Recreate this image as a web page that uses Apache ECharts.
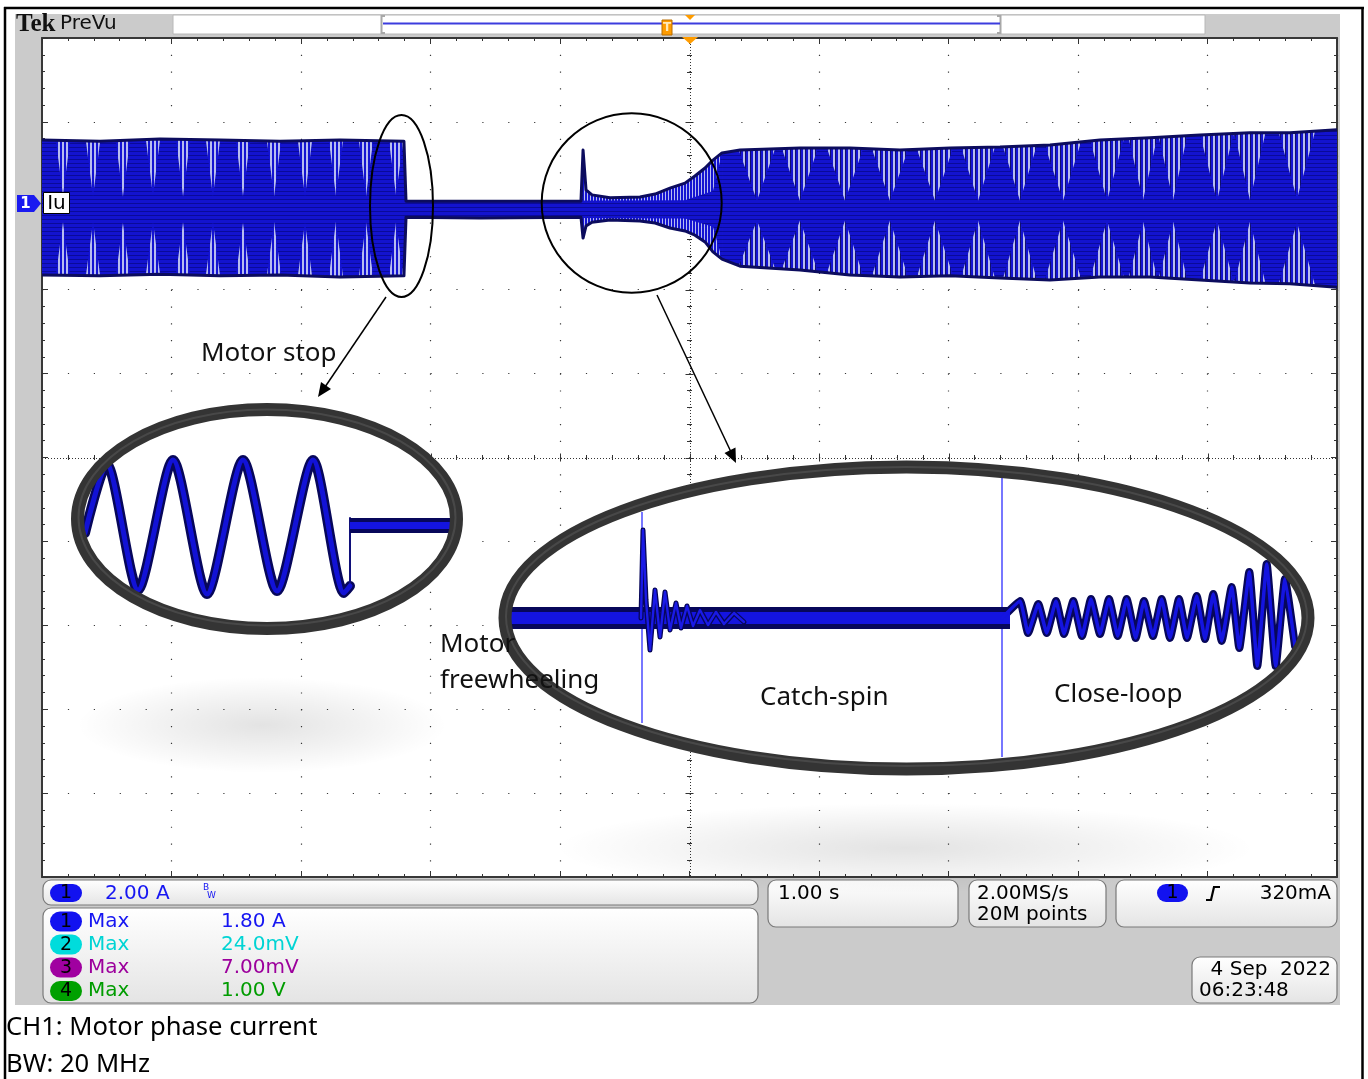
<!DOCTYPE html>
<html>
<head>
<meta charset="utf-8">
<title>Motor catch-spin</title>
<script src="https://cdn.jsdelivr.net/npm/echarts@6.0.0/dist/echarts.min.js"></script>
<style>
html,body{margin:0;padding:0;background:#ffffff;}
#chart{width:1368px;height:1079px;}
</style>
</head>
<body>
<div id="chart"></div>
<script>
// ================= DATA =================
// horizontal: 1.00 s/div, trigger at centre ; vertical: 2.00 A/div, CH1 ground 3 div above centre
const timeMin = -5, timeMax = 5, timePerDiv = 1;
const ampMin = -16, ampMax = 4, ampPerDiv = 2;
const centreTime = 0, centreAmp = -6;

// CH1 (Iu) outer envelope (s, A)
const envT   = [-5.000,-4.552,-4.089,-3.625,-3.162,-2.699,-2.205,-2.189,-1.618,-0.838,-0.822,-0.799,-0.753,-0.614,-0.382,-0.266,-0.151,-0.035,0.042,0.120,0.181,0.251,0.390,0.853,1.239,1.625,2.012,2.398,2.784,3.170,3.556,3.942,4.328,4.637,5.000];
const envMax = [1.57,1.54,1.59,1.57,1.54,1.57,1.54,0.11,0.11,0.11,1.33,0.38,0.26,0.19,0.21,0.28,0.42,0.54,0.71,0.90,1.09,1.26,1.33,1.38,1.38,1.33,1.38,1.40,1.45,1.57,1.62,1.69,1.74,1.74,1.81];
const envMin = [-1.65,-1.67,-1.63,-1.67,-1.65,-1.70,-1.67,-0.27,-0.29,-0.27,-0.77,-0.48,-0.39,-0.34,-0.36,-0.41,-0.53,-0.60,-0.70,-0.86,-1.10,-1.27,-1.44,-1.53,-1.65,-1.70,-1.67,-1.72,-1.77,-1.70,-1.70,-1.77,-1.84,-1.86,-1.94];
// sparse (striped) part while the motor is caught
const sparseStart = -0.822, sparseEnd = 0.251;
// dense core of the trace during freewheeling / catch-spin
const coreT   = [-2.189,-0.035,0.181,0.251];
const coreMax = [0.11,0.13,0.35,1.26];
const coreMin = [-0.27,-0.30,-0.50,-1.27];
// beat (aliasing) nodes: before stop and in close-loop
const beat1T  = [-4.838,-4.606,-4.375,-4.143,-3.911,-3.680,-3.448,-3.208,-2.969,-2.730,-2.498,-2.266];
const beat1Hi = [0.25,0.23,0.22,0.24,0.23,0.22,0.24,0.23,0.22,0.24,0.23,0.25];
const beat1Lo = [-0.40,-0.38,-0.41,-0.39,-0.40,-0.38,-0.41,-0.39,-0.40,-0.38,-0.40,-0.39];
const beat1W  = [0.055,0.055,0.055,0.055,0.055,0.055,0.055,0.055,0.055,0.055,0.055,0.055];
const beat3T  = [0.521,0.853,1.201,1.548,1.896,2.228,2.552,2.884,3.224,3.502,3.734,4.073,4.328,4.691];
const beat3Hi = [0.12,0.12,0.12,0.12,0.12,0.12,0.12,0.12,0.12,0.14,0.14,0.12,0.14,0.16];
const beat3Lo = [-0.35,-0.35,-0.35,-0.35,-0.35,-0.35,-0.35,-0.35,-0.35,-0.38,-0.38,-0.35,-0.38,-0.40];
const beat3W  = [0.14,0.14,0.14,0.14,0.14,0.13,0.13,0.14,0.13,0.11,0.11,0.13,0.12,0.14];

// zoom inset "Motor stop" (inset units)
const stopWaveX = [15,36.7,68,103,137,173,207,243,274,280];
const stopWaveY = [-13,56,-70,60,-74,60,-71,60,-73,-66];
const stopStepX = [280,280];
const stopStepY = [-66,2];
const stopHoldX = [280,382];
const stopHoldY = [-5.5,-5.5];

// zoom inset "freewheeling / catch-spin / close-loop" (inset units)
const catchHoldX  = [10,510];
const catchHoldY  = [2,2];
const catchSpikeX = [141,143,146,150,155,160,165,170,176,181,187,193,200,208,216,224,234,244];
const catchSpikeY = [2,90,20,-30,30,-17,28,-10,17,-8,14,-6,10,-5,8,-4,7,-2];
const catchLoopX  = [502,520,528,538.3,546.7,556,564,573.3,582,591,600,609,617.7,626.7,635.7,644,653,661.7,670,679,687,696.7,705,713.3,721.7,731.7,739.3,749.3,757.3,766.7,775.7,785,795];
const catchLoopY  = [2,19,-13,16,-13,19,-14,19,-16,21,-14,21,-16,21,-18,19,-16,21,-18,21,-18,24,-19,26,-21,33,-28,48,-46,56,-46,41,-26];
const cursorAX = [142,142], cursorAY = [108,-103];
const cursorBX = [502,502], cursorBY = [142,-137];

// readouts & texts
const chanNumbers = ['1','2','3','4'];
const measNames   = ['Max','Max','Max','Max'];
const measValues  = ['1.80 A','24.0mV','7.00mV','1.00 V'];
const vertScale = '2.00 A', horizScale = '1.00 s';
const sampleRate = '2.00MS/s', recordLength = '20M points';
const trigLevel = '320mA', dateText = '4 Sep  2022', timeText = '06:23:48';
const chanLabel = 'Iu';
const annotations = ['Motor stop','Motor','freewheeling','Catch-spin','Close-loop'];
const captions = ['CH1: Motor phase current','BW: 20 MHz'];

// ================= STYLE HELPERS =================
const NAVY = '#0c0c5e', BLUE = '#1414d2', PALE = '#b7bcf0';
function makePattern(w, h, draw){
  const c = document.createElement('canvas'); c.width = w; c.height = h;
  draw(c.getContext('2d')); return {image: c, repeat: 'repeat'};
}
const stripe1 = makePattern(4,1,g=>{g.fillStyle=BLUE;g.fillRect(0,0,4,1);g.fillStyle=PALE;g.fillRect(2,0,2,1);});
const stripe3 = makePattern(5,1,g=>{g.fillStyle='#10106e';g.fillRect(0,0,1,1);g.fillStyle=BLUE;g.fillRect(1,0,2,1);g.fillStyle=PALE;g.fillRect(3,0,2,1);});
const stripeDense = makePattern(3,1,g=>{g.fillStyle=BLUE;g.fillRect(0,0,3,1);g.fillStyle=PALE;g.fillRect(2,0,1,1);});
const coreFill = makePattern(1,4,g=>{g.fillStyle='#1313cf';g.fillRect(0,0,1,4);g.fillStyle='#0a0a9a';g.fillRect(0,3,1,1);});

function interp(ts, vs, t){
  if (t <= ts[0]) return vs[0];
  for (let i=1;i<ts.length;i++){ if (t <= ts[i]){ const f=(t-ts[i-1])/(ts[i]-ts[i-1]); return vs[i-1]+f*(vs[i]-vs[i-1]); } }
  return vs[vs.length-1];
}

function renderTrace(params, api){
  if (params.dataIndex !== 0) return null;
  const c = (t,v)=>api.coord([t,v]);
  const top = envT.map((t,i)=>c(t,envMax[i]));
  const bot = envT.map((t,i)=>c(t,envMin[i]));
  const ch = [];
  ch.push({type:'polygon', shape:{points: top.concat(bot.slice().reverse())}, style:{fill: coreFill}});
  const gi = envT.map((t,i)=>i).filter(i=>envT[i]>=sparseStart && envT[i]<=sparseEnd);
  ch.push({type:'polygon', shape:{points: gi.map(i=>top[i]).concat(gi.map(i=>bot[i]).reverse())}, style:{fill: stripeDense}});
  const cTop = coreT.map((t,i)=>c(t,coreMax[i])), cBot = coreT.map((t,i)=>c(t,coreMin[i]));
  ch.push({type:'polygon', shape:{points: cTop.concat(cBot.reverse())}, style:{fill: coreFill}});
  function notches(ts, his, los, ws, fill){
    ts.forEach((t,k)=>{
      const w = ws[k];
      const a = Math.max(t-w, timeMin), b = Math.min(t+w, timeMax);
      ch.push({type:'polygon', shape:{points:[c(a, interp(envT,envMax,a)), c(b, interp(envT,envMax,b)), c(t, his[k])]}, style:{fill: fill}});
      ch.push({type:'polygon', shape:{points:[c(a, interp(envT,envMin,a)), c(b, interp(envT,envMin,b)), c(t, los[k])]}, style:{fill: fill}});
    });
  }
  notches(beat1T, beat1Hi, beat1Lo, beat1W, stripe1);
  notches(beat3T, beat3Hi, beat3Lo, beat3W, stripe3);
  ch.push({type:'polyline', shape:{points: top}, style:{stroke: NAVY, lineWidth: 3, fill: 'none', lineJoin:'round'}});
  ch.push({type:'polyline', shape:{points: bot}, style:{stroke: NAVY, lineWidth: 3, fill: 'none', lineJoin:'round'}});
  return {type:'group', children: ch};
}

function renderGraticule(params, api){
  if (params.dataIndex !== 0) return null;
  const ch = [];
  const st = {stroke:'#333', lineWidth:1};
  const rp = v => Math.round(v)+0.5;
  const l = api.coord([timeMin, centreAmp]), r = api.coord([timeMax, centreAmp]);
  const t = api.coord([centreTime, ampMax]), b = api.coord([centreTime, ampMin]);
  ch.push({type:'line', shape:{x1:l[0], y1:rp(l[1]), x2:r[0], y2:rp(r[1])}, style:{stroke:'#333', lineWidth:1, lineDash:[1,2]}});
  ch.push({type:'line', shape:{x1:rp(t[0]), y1:t[1], x2:rp(b[0]), y2:b[1]}, style:{stroke:'#333', lineWidth:1, lineDash:[1,2]}});
  for (let k=1;k<50;k++){
    const p = api.coord([timeMin + k*timePerDiv/5, centreAmp]);
    const len = (k%5===0)?4:2.5;
    ch.push({type:'line', shape:{x1:rp(p[0]), y1:p[1]-len, x2:rp(p[0]), y2:p[1]+len}, style:st});
  }
  for (let k=1;k<50;k++){
    const p = api.coord([centreTime, ampMin + k*ampPerDiv/5]);
    const len = (k%5===0)?4:2.5;
    ch.push({type:'line', shape:{x1:p[0]-len, y1:rp(p[1]), x2:p[0]+len, y2:rp(p[1])}, style:st});
  }
  return {type:'group', children: ch};
}

const zip = (xs, ys) => xs.map((x,i)=>[x, ys[i]]);
function insetLine(name, xi, xs, ys, color, width, smooth, z, cap){
  return {name, type:'line', xAxisIndex:xi, yAxisIndex:xi, data: zip(xs,ys), symbol:'none', showSymbol:false,
    smooth: smooth, lineStyle:{color, width, cap: cap||'round', join:'round'}, z: z, silent:true, animation:false};
}

// ================= GRAPHIC (frame, readouts, annotations) =================
const G = [];
const FONT_RO = '20px "DejaVu Sans"';
const FONT_AN = '26px "Noto Sans"';
function txt(x, y, s, font, fill, align, z){
  G.push({type:'text', z: z||10, style:{x, y, text:s, font, fill, align: align||'left', verticalAlign:'middle', textAlign: align||'left', textVerticalAlign:'middle'}});
}
function box(x, y, w, h, z){
  G.push({type:'rect', z: z||-5, shape:{x, y, width:w, height:h, r:8},
    style:{fill: new echarts.graphic.LinearGradient(0,0,0,1,[{offset:0,color:'#ffffff'},{offset:1,color:'#e4e4e4'}]), stroke:'#7a7a7a', lineWidth:1.2}});
}
function pill(x, y, w, h, color, num){
  G.push({type:'rect', z:-4, shape:{x, y, width:w, height:h, r:h/2}, style:{fill: color}});
  txt(x+w/2, y+h/2+0.5, num, '19px "DejaVu Sans"', '#000', 'center', -3);
}
// outer frame
G.push({type:'line', z:20, shape:{x1:4, y1:8, x2:1364, y2:8}, style:{stroke:'#000', lineWidth:2.5}});
G.push({type:'line', z:20, shape:{x1:5, y1:7, x2:5, y2:1079}, style:{stroke:'#000', lineWidth:2.5}});
G.push({type:'line', z:20, shape:{x1:1362.5, y1:7, x2:1362.5, y2:1079}, style:{stroke:'#000', lineWidth:2.5}});
// scope panel
G.push({type:'rect', z:-10, shape:{x:15, y:14, width:1325, height:991}, style:{fill:'#cbcbcb'}});
G.push({type:'rect', z:-9, shape:{x:42, y:38, width:1295, height:839}, style:{fill:'#ffffff'}});
// top record bar
G.push({type:'rect', z:-8, shape:{x:173, y:15, width:1032, height:19}, style:{fill:'#ffffff', stroke:'#b8b8b8', lineWidth:1}});
G.push({type:'polyline', z:-7, shape:{points:[[385,16],[381.5,16],[381.5,33],[385,33]]}, style:{stroke:'#a8a8a8', lineWidth:2, fill:'none'}});
G.push({type:'polyline', z:-7, shape:{points:[[997,16],[1000.5,16],[1000.5,33],[997,33]]}, style:{stroke:'#a8a8a8', lineWidth:2, fill:'none'}});
G.push({type:'line', z:-6, shape:{x1:383, y1:23.5, x2:1000, y2:23.5}, style:{stroke:'#3c3cde', lineWidth:2}});
G.push({type:'rect', z:-5, shape:{x:662, y:20, width:10, height:15}, style:{fill:'#ff9c00', stroke:'#b86c00', lineWidth:1}});
txt(667, 28, 'T', 'bold 12px "DejaVu Sans"', '#ffe9b8', 'center', -4);
G.push({type:'polygon', z:-5, shape:{points:[[685,15],[695,15],[690,20]]}, style:{fill:'#ff9c00'}});
G.push({type:'polygon', z:5, shape:{points:[[682,37],[698,37],[690,44]]}, style:{fill:'#ff9c00'}});
txt(16, 25, 'Tek', 'bold 25px "Liberation Serif"', '#111', 'left', -5);
txt(60, 24, 'PreVu', '20px "DejaVu Sans"', '#111', 'left', -5);
// channel marker and label
G.push({type:'polygon', z:-5, shape:{points:[[17,195],[34,195],[41,203.5],[34,212],[17,212]]}, style:{fill:'#1a1af0'}});
txt(25.5, 204, '1', 'bold 15px "DejaVu Sans"', '#ffffff', 'center', -4);
G.push({type:'rect', z:6, shape:{x:43.5, y:192.5, width:26, height:21}, style:{fill:'#ffffff', stroke:'#000', lineWidth:1}});
txt(56.5, 203.5, chanLabel, '20px "DejaVu Sans"', '#000', 'center', 7);
// readout boxes
box(43, 880, 715, 25); box(43, 908, 715, 95); box(768, 880, 190, 47); box(969, 880, 137, 47); box(1116, 880, 221, 47); box(1192, 957, 145, 46);
pill(50, 884, 32, 18, '#1212f0', chanNumbers[0]);
txt(105, 893.5, vertScale, FONT_RO, '#1616f2', 'left', -3);
txt(203, 888, 'B', '9px "DejaVu Sans"', '#1616f2', 'left', -3);
txt(207, 896, 'W', '9px "DejaVu Sans"', '#1616f2', 'left', -3);
const chColors = ['#1212f0','#00dcdc','#a000a0','#00a000'];
const txColors = ['#1616f2','#00d4d4','#9c009c','#009c00'];
const rowY = [921.5, 944.5, 967.5, 991];
rowY.forEach((y,i)=>{
  pill(50, y-10, 32, 20, chColors[i], chanNumbers[i]);
  txt(88, y, measNames[i], FONT_RO, txColors[i], 'left', -3);
  txt(221, y, measValues[i], FONT_RO, txColors[i], 'left', -3);
});
txt(778, 893.5, horizScale, FONT_RO, '#000', 'left', -3);
txt(977, 893.5, sampleRate, FONT_RO, '#000', 'left', -3);
txt(977, 915, recordLength, FONT_RO, '#000', 'left', -3);
pill(1157, 884, 31, 18, '#1212f0', chanNumbers[0]);
G.push({type:'polyline', z:-3, shape:{points:[[1206,900],[1211,900],[1214,887],[1220,887]]}, style:{stroke:'#000', lineWidth:2.2, fill:'none'}});
txt(1331, 893.5, trigLevel, FONT_RO, '#000', 'right', -3);
txt(1331, 970, dateText, FONT_RO, '#000', 'right', -3);
txt(1199, 991, timeText, FONT_RO, '#000', 'left', -3);

// inset shadows
function shadow(cx, cy, sx, sy, a){
  G.push({type:'circle', z:2, x:cx, y:cy, scaleX:sx, scaleY:sy, shape:{cx:0, cy:0, r:100},
    style:{fill: new echarts.graphic.RadialGradient(0.5,0.5,0.5,[{offset:0,color:'rgba(0,0,0,'+a+')'},{offset:0.55,color:'rgba(0,0,0,'+(a*0.45)+')'},{offset:1,color:'rgba(0,0,0,0)'}])}});
}
shadow(262, 725, 1.85, 0.48, 0.11);
shadow(905, 848, 3.5, 0.45, 0.11);
// inset backgrounds and rings
const insets = [{cx:267, cy:519, rx:189.5, ry:109.5},{cx:906.5, cy:618, rx:401.5, ry:151}];
insets.forEach(e=>{
  G.push({type:'ellipse', z:3, shape:{cx:e.cx, cy:e.cy, rx:e.rx, ry:e.ry}, style:{fill:'#ffffff'}});
  G.push({type:'ellipse', z:8, shape:{cx:e.cx, cy:e.cy, rx:e.rx, ry:e.ry}, style:{fill:'none', stroke:'#343434', lineWidth:13}});
  G.push({type:'ellipse', z:8, shape:{cx:e.cx, cy:e.cy-1.5, rx:e.rx-1, ry:e.ry-1.5}, style:{fill:'none', stroke:'rgba(255,255,255,0.10)', lineWidth:2}});
});
// annotation ellipses on the trace
G.push({type:'ellipse', z:6, shape:{cx:401.5, cy:206, rx:31.5, ry:91}, style:{fill:'none', stroke:'#000', lineWidth:2}});
G.push({type:'ellipse', z:6, shape:{cx:631.7, cy:203, rx:90, ry:89.7}, style:{fill:'none', stroke:'#000', lineWidth:2}});
// arrows
G.push({type:'line', z:6, shape:{x1:386, y1:297, x2:325, y2:387}, style:{stroke:'#000', lineWidth:1.5}});
G.push({type:'polygon', z:6, shape:{points:[[318,397],[331,389],[321,382]]}, style:{fill:'#000'}});
G.push({type:'line', z:6, shape:{x1:657, y1:295, x2:731, y2:452}, style:{stroke:'#000', lineWidth:1.5}});
G.push({type:'polygon', z:6, shape:{points:[[736,463],[735.5,447.5],[724.5,453]]}, style:{fill:'#000'}});
// annotation texts
txt(201, 354, annotations[0], FONT_AN, '#111', 'left', 11);
txt(440, 645, annotations[1], FONT_AN, '#111', 'left', 11);
txt(440, 681, annotations[2], FONT_AN, '#111', 'left', 11);
txt(760, 698, annotations[3], FONT_AN, '#111', 'left', 11);
txt(1054, 694.5, annotations[4], FONT_AN, '#111', 'left', 11);
// captions
txt(6, 1028, captions[0], '25.6px "Noto Sans"', '#000', 'left', 11);
txt(6, 1065, captions[1], '25.6px "Noto Sans"', '#000', 'left', 11);

// ================= OPTION =================
const edgeAxis = (pos, isX, split) => ({
  gridIndex:0, type:'value', position:pos,
  min: isX ? timeMin : ampMin, max: isX ? timeMax : ampMax, interval: isX ? timePerDiv : ampPerDiv,
  axisLine:{show:true, onZero:false, lineStyle:{color:'#383838', width:2}},
  axisTick:{show:true, inside:true, length:6, lineStyle:{color:'#333', width:1}},
  minorTick:{show:true, splitNumber:5, length:3, lineStyle:{color:'#333', width:1}},
  axisLabel:{show:false},
  splitLine:{show:split, lineStyle:{color:'#3a3a3a', width:1.2, type: isX ? [1.2,15.58] : [1.2,24.7]}},
  minorSplitLine:{show:false}
});

const option = {
  animation:false,
  backgroundColor:'#ffffff',
  grid:[
    {left:42, top:38, width:1295, height:839, show:false},
    {left:70, top:400, width:400, height:240, show:false},
    {left:500, top:460, width:820, height:320, show:false}
  ],
  xAxis:[
    edgeAxis('bottom', true, true),
    edgeAxis('top', true, false),
    {gridIndex:1, type:'value', min:0, max:400, show:false},
    {gridIndex:2, type:'value', min:0, max:820, show:false}
  ],
  yAxis:[
    edgeAxis('left', false, true),
    edgeAxis('right', false, false),
    {gridIndex:1, type:'value', min:-120, max:120, show:false},
    {gridIndex:2, type:'value', min:-160, max:160, show:false}
  ],
  series:[
    {name:'graticule', type:'custom', xAxisIndex:0, yAxisIndex:0, data:[[centreTime, centreAmp]], renderItem: renderGraticule, z:1, silent:true},
    {name:'CH1 Iu', type:'custom', xAxisIndex:0, yAxisIndex:0,
     data: envT.map((t,i)=>[t, envMax[i], envMin[i]]), encode:{x:0, y:[1,2]}, renderItem: renderTrace, z:2, silent:true},
    // inset: motor stop
    insetLine('stop-outline', 2, stopWaveX, stopWaveY, '#07075a', 10, 0.25, 5),
    insetLine('stop-wave', 2, stopWaveX, stopWaveY, '#1212d6', 5, 0.25, 6),
    insetLine('stop-step', 2, stopStepX, stopStepY, '#10107a', 2, false, 5),
    insetLine('stop-hold-outline', 2, stopHoldX, stopHoldY, '#07075a', 15, false, 5, 'butt'),
    insetLine('stop-hold', 2, stopHoldX, stopHoldY, '#1414e0', 7, false, 6, 'butt'),
    // inset: catch-spin
    insetLine('cursor-a', 3, cursorAX, cursorAY, '#4a4aff', 1.5, false, 4, 'butt'),
    insetLine('cursor-b', 3, cursorBX, cursorBY, '#4a4aff', 1.5, false, 4, 'butt'),
    insetLine('catch-hold-outline', 3, catchHoldX, catchHoldY, '#07075a', 22, false, 5, 'butt'),
    insetLine('catch-hold', 3, catchHoldX, catchHoldY, '#1414e0', 12, false, 6, 'butt'),
    insetLine('catch-spike-outline', 3, catchSpikeX, catchSpikeY, '#07075a', 5, false, 6),
    insetLine('catch-spike', 3, catchSpikeX, catchSpikeY, '#1a1ae6', 2.4, false, 7),
    insetLine('loop-outline', 3, catchLoopX, catchLoopY, '#07075a', 8, 0.12, 5),
    insetLine('loop', 3, catchLoopX, catchLoopY, '#1414e0', 3.5, 0.12, 6)
  ],
  graphic:{elements: G}
};

const chart = echarts.init(document.getElementById('chart'), null, {renderer:'canvas', width:1368, height:1079});
chart.setOption(option);
</script>
</body>
</html>
